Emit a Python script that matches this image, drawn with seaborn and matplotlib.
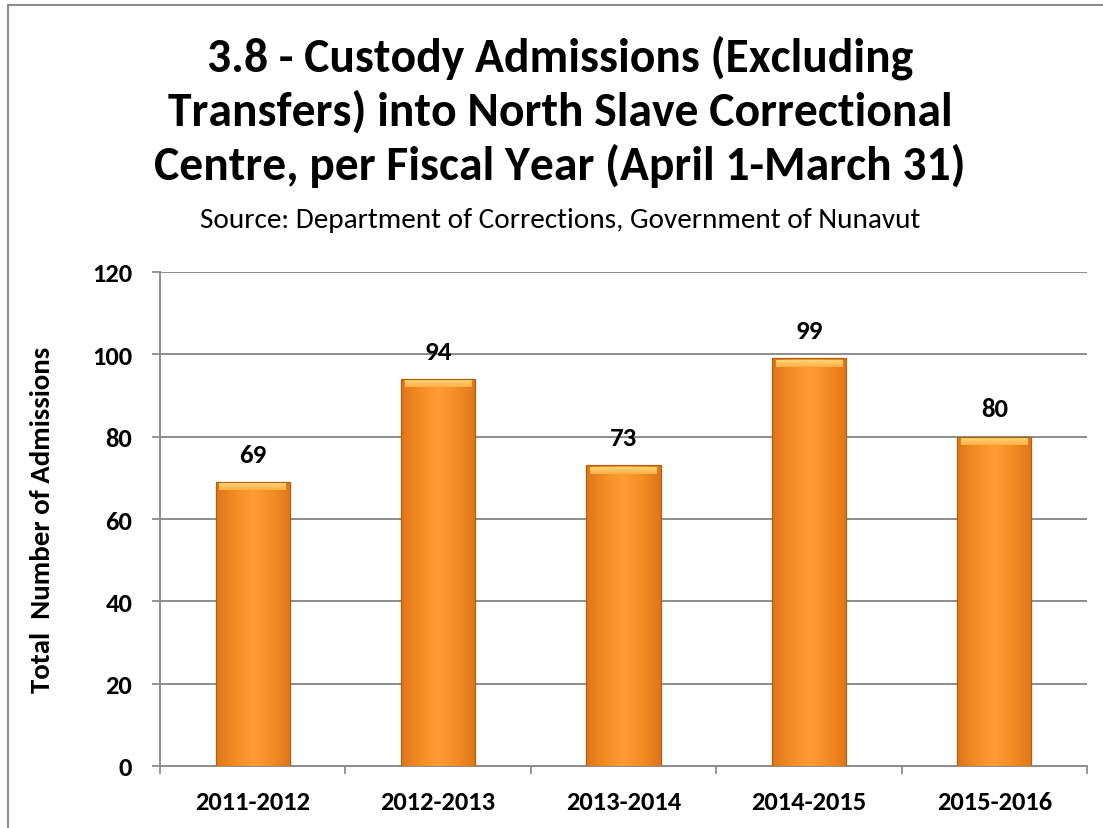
import os
import numpy as np
import pandas as pd
import matplotlib
matplotlib.use("Agg")
import matplotlib.pyplot as plt
from matplotlib import font_manager as fm
from matplotlib.lines import Line2D
from matplotlib.colors import LinearSegmentedColormap
import seaborn as sns

years = ["2011-2012", "2012-2013", "2013-2014", "2014-2015", "2015-2016"]
admissions = [69, 94, 73, 99, 80]
y_ticks = [0, 20, 40, 60, 80, 100, 120]

title_lines = ["3.8 - Custody Admissions (Excluding",
               "Transfers) into North Slave Correctional",
               "Centre, per Fiscal Year (April 1-March 31)"]
source_text = "Source: Department of Corrections, Government of Nunavut"
y_label = "Total  Number of Admissions"

sns.set_theme(style="white")
plt.rcParams["font.family"] = ["Open Sans", "DejaVu Sans"]
plt.rcParams["text.color"] = "black"
plt.rcParams["xtick.color"] = "black"
plt.rcParams["ytick.color"] = "black"
plt.rcParams["axes.labelcolor"] = "black"


def pick_font(stems, weight):
    """Return FontProperties for the first installed font file whose name matches."""
    files = {os.path.splitext(os.path.basename(f.fname))[0].lower().replace("_", "-"): f.fname
             for f in fm.fontManager.ttflist}
    for s in stems:
        if s.lower() in files:
            return fm.FontProperties(fname=files[s.lower()])
    return fm.FontProperties(family=["Open Sans", "DejaVu Sans"], weight=weight)


BOLD = pick_font(["Carlito-Bold", "OpenSans-SemiCondensedBold",
                  "OpenSans-SemiCondensed-Bold", "NotoSans-SemiCondensedBold"], "bold")
REG = pick_font(["Carlito-Regular", "OpenSans-SemiCondensed",
                 "OpenSans-SemiCondensed-Regular", "NotoSans-SemiCondensed"], "normal")

df = pd.DataFrame({"year": years, "admissions": admissions})

W, H = 1103, 829
fig = plt.figure(figsize=(W / 100, H / 100), dpi=100)
renderer = fig.canvas.get_renderer()


def fit(txt, target_px, vertical=False):
    """Scale a text's font size so that it spans target_px pixels."""
    ext = txt.get_window_extent(renderer)
    cur = ext.height if vertical else ext.width
    txt.set_fontsize(txt.get_fontsize() * target_px / cur)
    return txt.get_fontsize()


ax = fig.add_axes([160 / W, 1 - 767 / H, (1087 - 160) / W, (767 - 273) / H])

sns.barplot(data=df, x="year", y="admissions", color="#F7901E", width=0.40,
            saturation=1, ax=ax, zorder=3)

# shaded fill for each bar: darker at the sides, lighter through the middle
shade = LinearSegmentedColormap.from_list(
    "shade", ["#DF7519", "#F48C24", "#FF9C35", "#F48C24", "#DF7519"])
vshade = LinearSegmentedColormap.from_list("vshade", ["#FFD575", "#FFAE45"])
grad = np.linspace(0, 1, 256).reshape(1, -1)
for p in list(ax.patches):
    x0, y0 = p.get_x(), p.get_y()
    w, h = p.get_width(), p.get_height()
    p.set_edgecolor("#B8610F")
    p.set_linewidth(0.8)
    im = ax.imshow(grad, cmap=shade, aspect="auto",
                   extent=(x0, x0 + w, y0, y0 + h), zorder=3.5,
                   interpolation="bicubic")
    im.set_clip_path(p)
    # bevel highlight along the top edge
    ax.imshow(np.linspace(0, 1, 64).reshape(-1, 1), cmap=vshade, aspect="auto",
              extent=(x0 + w * 0.05, x0 + w * 0.95, y0 + h - 2.0, y0 + h - 0.3),
              zorder=3.6, interpolation="bicubic")
    ax.add_patch(plt.Rectangle((x0, y0), w, h, fill=False,
                               edgecolor="#B0600F", linewidth=0.8, zorder=3.7))

ax.set_xlim(-0.5, len(years) - 0.5)
ax.set_ylim(0, 120)

value_labels = []
for i, v in enumerate(admissions):
    t = ax.annotate(str(v), (i, v), xytext=(0, 20), textcoords="offset points",
                    ha="center", va="center", fontproperties=BOLD,
                    color="black", zorder=5)
    value_labels.append(t)
fs_val = fit(value_labels[0], 27)
for t in value_labels:
    t.set_fontsize(fs_val)

ax.set_yticks(y_ticks)
ax.yaxis.grid(True, color="#8C8C8C", linewidth=1.4, zorder=0)
ax.set_axisbelow(True)

ax.set_xticks(np.arange(len(years) + 1) - 0.5, minor=False)
ax.set_xticklabels([])
ax.set_xticks(np.arange(len(years)), minor=True)
ax.set_xticklabels(years, minor=True)
ax.tick_params(axis="x", which="major", length=6, width=1.3, color="#8C8C8C",
               direction="out", bottom=True)
ax.tick_params(axis="x", which="minor", length=0, pad=17)
ax.tick_params(axis="y", length=6, width=1.3, color="#8C8C8C", direction="out",
               left=True, pad=14)

xt = ax.get_xticklabels(minor=True)
for t in xt:
    t.set_fontproperties(BOLD)
fs_x = fit(xt[0], 115)
for t in xt:
    t.set_fontsize(fs_x)
for t in ax.get_yticklabels():
    t.set_fontproperties(BOLD)
    t.set_fontsize(fs_x)

for s in ["top", "right"]:
    ax.spines[s].set_visible(False)
for s in ["left", "bottom"]:
    ax.spines[s].set_color("#8C8C8C")
    ax.spines[s].set_linewidth(1.4)

ax.set_xlabel("")
ylab = ax.set_ylabel(y_label, fontproperties=BOLD)
ax.yaxis.set_label_coords((54 - 160) / 927, 0.5)
fit(ylab, 346, vertical=True)

# title: three centred lines, placed by baseline
title_base = [72, 126, 180]
tl = [fig.text(560 / W, 1 - y / H, s, ha="center", va="baseline",
               fontproperties=BOLD) for s, y in zip(title_lines, title_base)]
fs_title = fit(tl[2], 811)
for t in tl:
    t.set_fontsize(fs_title)

src = fig.text(560 / W, 1 - 228 / H, source_text, ha="center", va="baseline",
               fontproperties=REG)
fit(src, 719)

# outer frame of the chart area
fig.add_artist(Line2D([8 / W, 8 / W], [0, 1 - 6 / H], color="#8C8C8C",
                      linewidth=1.5, transform=fig.transFigure))
fig.add_artist(Line2D([8 / W, 1], [1 - 6 / H, 1 - 6 / H], color="#8C8C8C",
                      linewidth=1.5, transform=fig.transFigure))

fig.savefig("out.png", dpi=100, facecolor="white")
